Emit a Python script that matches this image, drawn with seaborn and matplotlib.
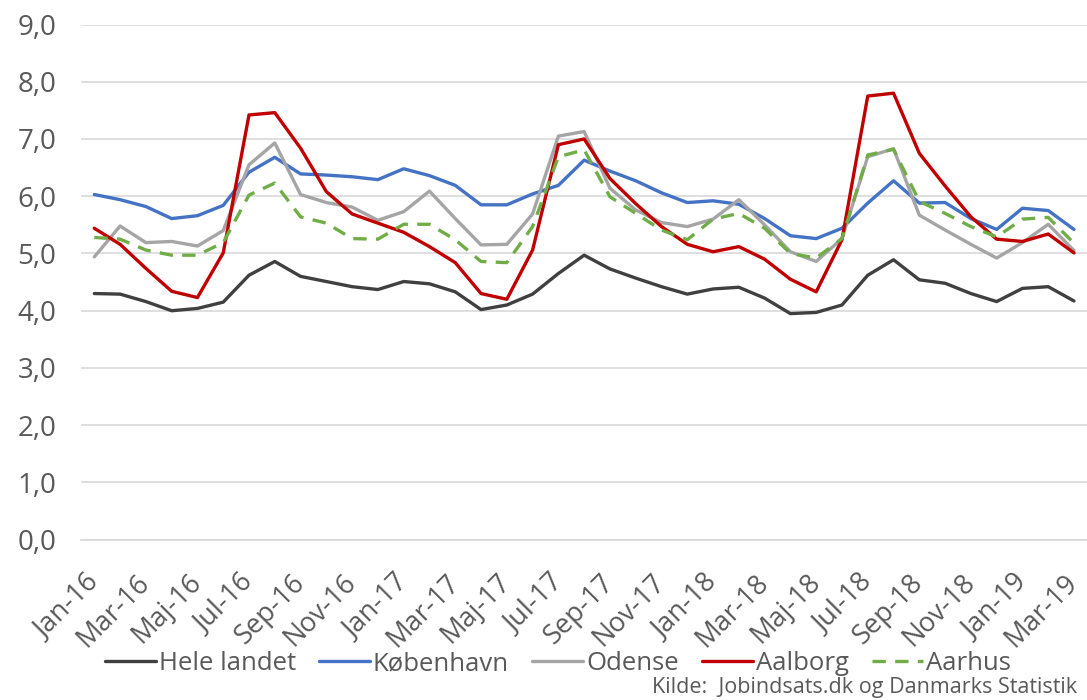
import pandas as pd
import seaborn as sns
import matplotlib.pyplot as plt

# Months Jan-16 .. Mar-19
months = ['Jan', 'Feb', 'Mar', 'Apr', 'Maj', 'Jun', 'Jul', 'Aug', 'Sep', 'Okt', 'Nov', 'Dec']
periods = [f"{m}-{y}" for y in ['16', '17', '18'] for m in months] + ['Jan-19', 'Feb-19', 'Mar-19']

hele_landet = [4.30, 4.29, 4.16, 4.00, 4.04, 4.15, 4.62, 4.86, 4.60, 4.51, 4.42, 4.37,
               4.51, 4.47, 4.33, 4.02, 4.10, 4.29, 4.65, 4.97, 4.73, 4.57, 4.42, 4.29,
               4.38, 4.41, 4.22, 3.95, 3.97, 4.10, 4.62, 4.89, 4.54, 4.48, 4.30, 4.16,
               4.39, 4.42, 4.17]
koebenhavn = [6.03, 5.94, 5.82, 5.61, 5.66, 5.84, 6.42, 6.68, 6.39, 6.37, 6.34, 6.29,
              6.48, 6.36, 6.19, 5.85, 5.85, 6.04, 6.19, 6.63, 6.44, 6.27, 6.06, 5.89,
              5.92, 5.86, 5.61, 5.31, 5.26, 5.44, 5.88, 6.27, 5.88, 5.89, 5.61, 5.42,
              5.79, 5.75, 5.42]
odense = [4.94, 5.48, 5.19, 5.21, 5.13, 5.40, 6.55, 6.93, 6.03, 5.89, 5.81, 5.58,
          5.73, 6.09, 5.61, 5.15, 5.16, 5.69, 7.05, 7.13, 6.14, 5.76, 5.54, 5.47,
          5.60, 5.94, 5.50, 5.03, 4.86, 5.26, 6.69, 6.83, 5.67, 5.41, 5.16, 4.92,
          5.19, 5.51, 5.05]
aalborg = [5.44, 5.16, 4.74, 4.34, 4.23, 5.01, 7.42, 7.46, 6.84, 6.08, 5.69, 5.53,
           5.37, 5.12, 4.84, 4.30, 4.20, 5.06, 6.90, 7.00, 6.31, 5.87, 5.47, 5.16,
           5.03, 5.12, 4.90, 4.55, 4.33, 5.24, 7.75, 7.80, 6.75, 6.18, 5.64, 5.25,
           5.21, 5.34, 5.01]
aarhus = [5.28, 5.25, 5.06, 4.97, 4.97, 5.19, 6.02, 6.23, 5.64, 5.53, 5.26, 5.25,
          5.51, 5.51, 5.24, 4.86, 4.84, 5.47, 6.69, 6.81, 5.99, 5.70, 5.41, 5.24,
          5.60, 5.70, 5.44, 5.00, 4.92, 5.26, 6.72, 6.82, 5.91, 5.70, 5.47, 5.29,
          5.60, 5.63, 5.18]

series = {'Hele landet': hele_landet, 'København': koebenhavn, 'Odense': odense,
          'Aalborg': aalborg, 'Aarhus': aarhus}
colors = {'Hele landet': '#404040', 'København': '#4472C4', 'Odense': '#A5A5A5',
          'Aalborg': '#C00000', 'Aarhus': '#70AD47'}
dashes = {'Hele landet': '', 'København': '', 'Odense': '',
          'Aalborg': '', 'Aarhus': (4, 2.8)}

df = pd.DataFrame([
    {'idx': i, 'serie': name, 'value': v}
    for name, vals in series.items() for i, v in enumerate(vals)
])

sns.set_style('white')
plt.rcParams['font.family'] = ['Open Sans', 'DejaVu Sans']
text_col = '#595959'

fig = plt.figure(figsize=(10.87, 7.0), dpi=100)
ax = fig.add_axes([0.0749, 0.229, 0.925, 0.736])

sns.lineplot(data=df, x='idx', y='value', hue='serie', style='serie',
             palette=colors, dashes=dashes, linewidth=2.4, ax=ax)

# y axis
ax.set_ylim(0, 9)
yt = [i * 1.0 for i in range(10)]
ax.set_yticks(yt)
ax.set_yticklabels([f"{v:.1f}".replace('.', ',') for v in yt], fontsize=20, color=text_col)
ax.yaxis.grid(True, color='#D9D9D9', linewidth=1.2)
ax.set_axisbelow(True)

# x axis: labels every second month, tick marks between categories
ax.set_xlim(-0.5, len(periods) - 0.5)
ax.set_xticks(range(0, len(periods), 2))
ax.set_xticklabels(periods[::2], rotation=45, ha='right', va='center',
                   rotation_mode='anchor', fontsize=19.5, color=text_col)
ax.set_xticks([i - 0.5 for i in range(len(periods) + 1)], minor=True)
ax.tick_params(axis='x', which='major', length=0, pad=28)
ax.tick_params(axis='x', which='minor', length=6, color='#D9D9D9', width=1.2)
ax.tick_params(axis='y', length=0, pad=18)
ax.set_xlabel('')
ax.set_ylabel('')

for s in ['top', 'right', 'left']:
    ax.spines[s].set_visible(False)
ax.spines['bottom'].set_color('#D9D9D9')
ax.spines['bottom'].set_linewidth(1.2)

handles, labels = ax.get_legend_handles_labels()
ax.legend_.remove()
leg = fig.legend(handles, labels, loc='center', bbox_to_anchor=(0.513, 0.052), ncol=5,
                 frameon=False, fontsize=18.5, handlelength=2.0, handletextpad=0.1,
                 columnspacing=0.9)
for t in leg.get_texts():
    t.set_color(text_col)

fig.text(0.991, 0.003, 'Kilde:  Jobindsats.dk og Danmarks Statistik', ha='right',
         va='bottom', fontsize=15.5, color=text_col)

fig.savefig('out.png', dpi=100)
